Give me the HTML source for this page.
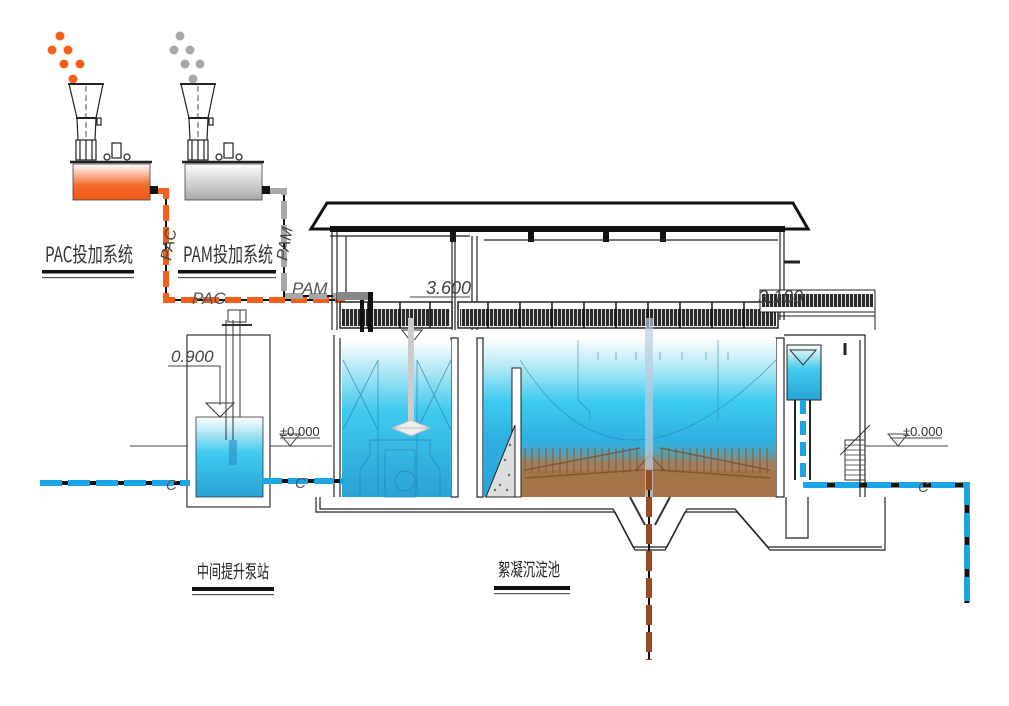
<!DOCTYPE html>
<html><head><meta charset="utf-8">
<style>
html,body{margin:0;padding:0;background:#fff;}
svg{display:block;}
text{font-family:"Liberation Sans","Noto Sans CJK SC",sans-serif;}
.cn{font-family:"Noto Sans CJK SC","WenQuanYi Zen Hei",sans-serif;}
</style></head>
<body>
<svg width="1009" height="706" viewBox="0 0 1009 706" xmlns="http://www.w3.org/2000/svg">
<defs>
<linearGradient id="org" x1="0" y1="0" x2="0" y2="1"><stop offset="0" stop-color="#fff"/><stop offset="0.6" stop-color="#f46a2a"/><stop offset="1" stop-color="#f05a18"/></linearGradient>
<linearGradient id="gry" x1="0" y1="0" x2="0" y2="1"><stop offset="0" stop-color="#fff"/><stop offset="1" stop-color="#a8a8a8"/></linearGradient>
<linearGradient id="wat" x1="0" y1="0" x2="0" y2="1"><stop offset="0" stop-color="#fff"/><stop offset="0.2" stop-color="#aee6f5"/><stop offset="0.45" stop-color="#3fcaee"/><stop offset="1" stop-color="#2aa3d6"/></linearGradient>
<linearGradient id="wat2" x1="0" y1="0" x2="0" y2="1"><stop offset="0" stop-color="#fff"/><stop offset="0.18" stop-color="#b5e9f6"/><stop offset="0.4" stop-color="#3ccbef"/><stop offset="0.65" stop-color="#2fb0e0"/><stop offset="1" stop-color="#2aa5d8"/></linearGradient>
<linearGradient id="mud" x1="0" y1="0" x2="0" y2="1"><stop offset="0" stop-color="#4aaed0" stop-opacity="0"/><stop offset="0.4" stop-color="#a08060"/><stop offset="1" stop-color="#a7774a"/></linearGradient>
<pattern id="grate" width="4" height="20" patternUnits="userSpaceOnUse"><rect width="4" height="20" fill="#2a2a2a"/><rect x="1" width="1" height="20" fill="#ddd"/></pattern>
</defs>

<!-- chemical dots -->
<g fill="#f4601c">
<circle cx="60" cy="36" r="4.5"/><circle cx="52" cy="50" r="4.5"/><circle cx="68" cy="50" r="4.5"/>
<circle cx="64" cy="64" r="4.5"/><circle cx="80" cy="64" r="4.5"/><circle cx="73" cy="79" r="4.5"/>
</g>
<g fill="#a8a8a8">
<circle cx="180" cy="36" r="4.5"/><circle cx="174" cy="50" r="4.5"/><circle cx="190" cy="50" r="4.5"/>
<circle cx="185" cy="64" r="4.5"/><circle cx="200" cy="64" r="4.5"/><circle cx="193" cy="79" r="4.5"/>
</g>

<!-- dosing units -->
<g id="unit" stroke="#222" fill="none" stroke-width="1.2">
<line x1="68" y1="84" x2="104" y2="84" stroke-width="2"/>
<path d="M69 84 L77 118 M103 84 L96 118"/>
<line x1="76" y1="118" x2="97" y2="118" stroke-width="2"/>
<path d="M77 118 L78 140 M96 118 L95 140"/>
<rect x="97" y="118" width="4" height="7"/>
<rect x="76" y="140" width="20" height="20"/>
<path d="M80 140 v20 M86 140 v20 M92 140 v20"/>
<rect x="112" y="143" width="9" height="15"/>
<circle cx="107" cy="157" r="3"/><circle cx="127" cy="157" r="3"/>
<line x1="70" y1="162" x2="152" y2="162" stroke-width="2.5"/>
<line x1="86" y1="86" x2="86" y2="160" stroke-dasharray="6 3" stroke-width="0.8"/>
</g>
<rect x="73" y="164" width="77" height="36" fill="url(#org)" stroke="#444" stroke-width="0.8"/>
<use href="#unit" x="112"/>
<rect x="185" y="164" width="77" height="36" fill="url(#gry)" stroke="#444" stroke-width="0.8"/>
<rect x="150" y="186" width="8" height="8" fill="#111"/>
<rect x="262" y="186" width="8" height="8" fill="#111"/>

<!-- PAC pipe -->
<polyline points="158,191 166,191 166,300 345,300" fill="none" stroke="#111" stroke-width="2"/>
<polyline points="158,191 166,191 166,300 345,300" fill="none" stroke="#f4601c" stroke-width="6" stroke-dasharray="16 6"/>
<!-- PAM pipe -->
<polyline points="270,191 284,191 284,296 345,296" fill="none" stroke="#111" stroke-width="2"/>
<polyline points="270,191 284,191 284,296 340,296" fill="none" stroke="#a8a8a8" stroke-width="6" stroke-dasharray="18 6"/>
<text x="160" y="262" font-size="16" fill="#444" transform="rotate(-80 165 255)" font-style="italic">PAC</text>
<text x="276" y="262" font-size="16" fill="#444" transform="rotate(-80 281 255)" font-style="italic">PAM</text>
<text x="192" y="304" font-size="17" fill="#555" font-style="italic">PAC</text>
<text x="292" y="294" font-size="17" fill="#555" font-style="italic">PAM</text>

<!-- system labels -->
<text x="45" y="262" font-size="21" fill="#333" class="cn" textLength="88" lengthAdjust="spacingAndGlyphs">PAC投加系统</text>
<rect x="42" y="270" width="92" height="3.5" fill="#111"/><rect x="42" y="277" width="92" height="1.2" fill="#555"/>
<text x="183" y="262" font-size="21" fill="#333" class="cn" textLength="90" lengthAdjust="spacingAndGlyphs">PAM投加系统</text>
<rect x="178" y="270" width="98" height="3.5" fill="#111"/><rect x="178" y="277" width="98" height="1.2" fill="#555"/>

<!-- building roof -->
<path d="M311 229 L327 203 L793 203 L808 229 Z" fill="#fff" stroke="#111" stroke-width="3"/>
<rect x="330" y="226" width="455" height="6" fill="#111"/>
<rect x="450" y="230" width="6" height="12" fill="#111"/>
<rect x="528" y="230" width="6" height="12" fill="#111"/>
<rect x="603" y="230" width="6" height="12" fill="#111"/>
<rect x="660" y="230" width="6" height="12" fill="#111"/>
<g stroke="#222" fill="none" stroke-width="1.2">
<line x1="330" y1="236" x2="470" y2="236"/><line x1="484" y1="240" x2="778" y2="240"/>
<path d="M332 232 V330 M337 232 V330 M346 236 V300"/>
<path d="M452 232 V330 M455 232 V330"/>
<path d="M472 236 V330 M477 236 V330"/>
<path d="M780 232 V320 M784 232 V320"/>
<line x1="784" y1="262" x2="800" y2="262" stroke-width="3"/>
</g>
<!-- grating/walkway -->
<rect x="340" y="302" width="112" height="26" fill="#fff" stroke="#222" stroke-width="1.5"/>
<rect x="342" y="309" width="108" height="17" fill="url(#grate)"/>
<rect x="458" y="302" width="320" height="26" fill="#fff" stroke="#222" stroke-width="1.5"/>
<rect x="460" y="309" width="316" height="17" fill="url(#grate)"/>
<g stroke="#111" stroke-width="1.5">
<path d="M368 302v26M400 302v26M430 302v26M488 302v26M520 302v26M552 302v26M584 302v26M616 302v26M648 302v26M680 302v26M712 302v26M744 302v26"/>
</g>
<rect x="760" y="290" width="115" height="22" fill="#fff" stroke="#222"/>
<rect x="762" y="294" width="111" height="13" fill="url(#grate)"/>
<line x1="778" y1="316" x2="875" y2="316" stroke="#222"/>
<line x1="875" y1="290" x2="875" y2="330" stroke="#222"/>
<rect x="337" y="292" width="35" height="8" fill="#888"/>
<rect x="368" y="292" width="5" height="40" fill="#111"/>
<rect x="360" y="300" width="4" height="32" fill="#111"/>
<text x="426" y="294" font-size="18" fill="#444" font-style="italic">3.600</text>
<line x1="410" y1="297" x2="470" y2="297" stroke="#444"/>
<path d="M402 330 L422 330 L412 343 Z" fill="none" stroke="#333"/>
<text x="758" y="303" font-size="18" fill="#444" font-style="italic">3.100</text>

<!-- main structure walls -->
<g stroke="#222" fill="none" stroke-width="1.2">
<path d="M334 335 V497 M340 338 V497"/>
<path d="M316 497 V512 H615 L635 550 H665 L685 512 H737 L770 550 H885 V497"/>
<path d="M320 497 V509 H613 L633 547 H667 L687 509 H735 L768 547 H882"/>
<rect x="451" y="338" width="7" height="159"/>
<rect x="477" y="338" width="6" height="159"/>
<rect x="776" y="338" width="8" height="159"/>
<path d="M784 335 H865 V497 M860 340 V497"/>
<path d="M786 497 V538 H808 V497"/>
</g>
<!-- left tank water -->
<rect x="342" y="340" width="109" height="157" fill="url(#wat)"/>
<g stroke="#2a7ea8" stroke-width="0.9" fill="none" opacity="0.7">
<path d="M343 360 L378 430 M378 360 L343 430 M417 360 L451 430 M451 360 L417 430"/>
<path d="M370 440 H430 V455 L440 470 V497 M370 440 V455 L360 470 V497"/>
<rect x="385" y="450" width="30" height="47"/>
<circle cx="405" cy="481" r="10"/>
<line x1="378" y1="360" x2="378" y2="497"/><line x1="417" y1="360" x2="417" y2="497"/>
</g>
<rect x="408" y="318" width="6" height="110" fill="#ccc"/>
<path d="M392 428 L430 428 L411 420 Z M392 428 L430 428 L411 436 Z" fill="#eee" stroke="#bbb"/>
<!-- main tank water -->
<rect x="484" y="338" width="292" height="159" fill="url(#wat2)"/>
<rect x="520" y="440" width="256" height="57" fill="url(#mud)"/>
<rect x="520" y="470" width="256" height="27" fill="#a37448" opacity="0.85"/>
<g stroke="#7a4f28" stroke-width="1" opacity="0.8">
<path d="M525 448v25M532 448v25M539 448v25M546 448v25M553 448v25M560 448v25M567 448v25M574 448v25M581 448v25M588 448v25M595 448v25M602 448v25M609 448v25M616 448v25M623 448v25M630 448v25M637 448v25M662 448v25M669 448v25M676 448v25M683 448v25M690 448v25M697 448v25M704 448v25M711 448v25M718 448v25M725 448v25M732 448v25M739 448v25M746 448v25M753 448v25M760 448v25M767 448v25"/>
<path d="M525 470 L640 448 M770 470 L660 448 M525 478 L640 470 M770 478 L660 470" fill="none" stroke-width="1.5"/>
</g>
<path d="M636 470 L650 455 L664 470 Z" fill="none" stroke="#7a4f28"/>
<g stroke="#2a7ea8" stroke-width="0.9" fill="none" opacity="0.6">
<path d="M520 360 Q620 520 776 360"/>
<path d="M578 340 V400 L590 412 V420 M778 340"/>
<path d="M598 352 v8 M616 352 v8 M636 352 v8 M660 352 v8 M682 352 v8 M706 352 v8 M728 352 v8"/>
<line x1="718" y1="340" x2="718" y2="420"/>
</g>
<rect x="645" y="318" width="8" height="180" fill="#bcd" opacity="0.7"/>
<rect x="512" y="368" width="9" height="129" fill="#fff" stroke="#222"/>
<path d="M486 497 L515 425 L515 497 Z" fill="#ddd" stroke="#222"/>
<g fill="#666"><circle cx="505" cy="460" r="1.2"/><circle cx="509" cy="475" r="1.2"/><circle cx="500" cy="485" r="1.2"/><circle cx="510" cy="445" r="1.2"/><circle cx="495" cy="490" r="1.2"/><circle cx="507" cy="490" r="1.2"/></g>
<!-- sludge hopper -->
<path d="M630 497 L645 525 M670 497 L655 525" stroke="#333" stroke-width="2" fill="none"/>
<!-- right small tank -->
<rect x="787" y="345" width="34" height="55" fill="url(#wat)" stroke="#222"/>
<path d="M790 350 L816 350 L803 365 Z" fill="none" stroke="#333"/>
<path d="M795 400 V480 M810 400 V480" stroke="#222" stroke-width="2"/>
<path d="M845 440 h20 v40 h-20 z" fill="none" stroke="#333"/>
<path d="M845 445h20M845 450h20M845 455h20M845 460h20M845 465h20M845 470h20M845 475h20" stroke="#333" stroke-width="0.8"/>
<path d="M840 455 L870 425" stroke="#333"/>
<path d="M845 343 v12" stroke="#222" stroke-width="3"/>

<!-- ground lines -->
<g stroke="#444" fill="none" stroke-width="1">
<line x1="130" y1="446" x2="187" y2="446"/><line x1="270" y1="446" x2="332" y2="446"/>
<line x1="865" y1="446" x2="948" y2="446"/>
<path d="M280 434 L300 434 L290 446 Z M888 434 L908 434 L898 446 Z"/>
<line x1="280" y1="438" x2="320" y2="438"/><line x1="890" y1="438" x2="942" y2="438"/>
</g>
<text x="280" y="436" font-size="13" fill="#333">±0.000</text>
<text x="903" y="436" font-size="13" fill="#333">±0.000</text>

<!-- pump station -->
<rect x="187" y="335" width="83" height="172" fill="#fff" stroke="#333" stroke-width="1.2"/>
<rect x="196" y="417" width="67" height="80" fill="url(#wat)" stroke="#333" stroke-width="0.8"/>
<path d="M226 320 V440 M233 320 V440 M240 310 V417" stroke="#333" fill="none"/>
<rect x="228" y="310" width="18" height="12" fill="none" stroke="#333"/>
<path d="M222 325 h30" stroke="#333" stroke-width="2"/>
<path d="M229 440 h8 v25 h-8 z" fill="#2a8fbf" opacity="0.6"/>
<text x="171" y="362" font-size="17" fill="#444" font-style="italic">0.900</text>
<polyline points="168,366 220,366 220,405" fill="none" stroke="#444"/>
<path d="M206 403 L234 403 L220 417 Z" fill="none" stroke="#333"/>

<!-- blue pipes -->
<line x1="40" y1="483" x2="190" y2="483" stroke="#111" stroke-width="4"/>
<line x1="40" y1="483" x2="190" y2="483" stroke="#1aa6e6" stroke-width="6" stroke-dasharray="22 6"/>
<line x1="262" y1="481" x2="344" y2="481" stroke="#111" stroke-width="4"/>
<line x1="262" y1="481" x2="344" y2="481" stroke="#1aa6e6" stroke-width="6" stroke-dasharray="20 6"/>
<line x1="803" y1="400" x2="803" y2="483" stroke="#1aa6e6" stroke-width="6" stroke-dasharray="14 7"/>
<polyline points="803,485 967,485 967,603" fill="none" stroke="#111" stroke-width="5"/>
<polyline points="803,485 967,485 967,603" fill="none" stroke="#1aa6e6" stroke-width="6" stroke-dasharray="24 8"/>
<text x="166" y="490" font-size="15" fill="#555" font-style="italic">C</text>
<text x="295" y="488" font-size="15" fill="#555" font-style="italic">C</text>
<text x="918" y="492" font-size="15" fill="#555" font-style="italic">C</text>

<!-- brown drain pipe -->
<line x1="649" y1="470" x2="649" y2="660" stroke="#111" stroke-width="2"/>
<line x1="649" y1="470" x2="649" y2="660" stroke="#9a4a22" stroke-width="6" stroke-dasharray="20 7"/>

<!-- bottom labels -->
<text x="197" y="578" font-size="18" fill="#222" class="cn" textLength="72" lengthAdjust="spacingAndGlyphs">中间提升泵站</text>
<rect x="192" y="587" width="82" height="4" fill="#111"/><rect x="192" y="594" width="82" height="1.2" fill="#555"/>
<text x="498" y="576" font-size="18" fill="#222" class="cn" textLength="62" lengthAdjust="spacingAndGlyphs">絮凝沉淀池</text>
<rect x="494" y="586" width="76" height="4" fill="#111"/><rect x="494" y="593" width="76" height="1.2" fill="#555"/>
</svg>
</body></html>
